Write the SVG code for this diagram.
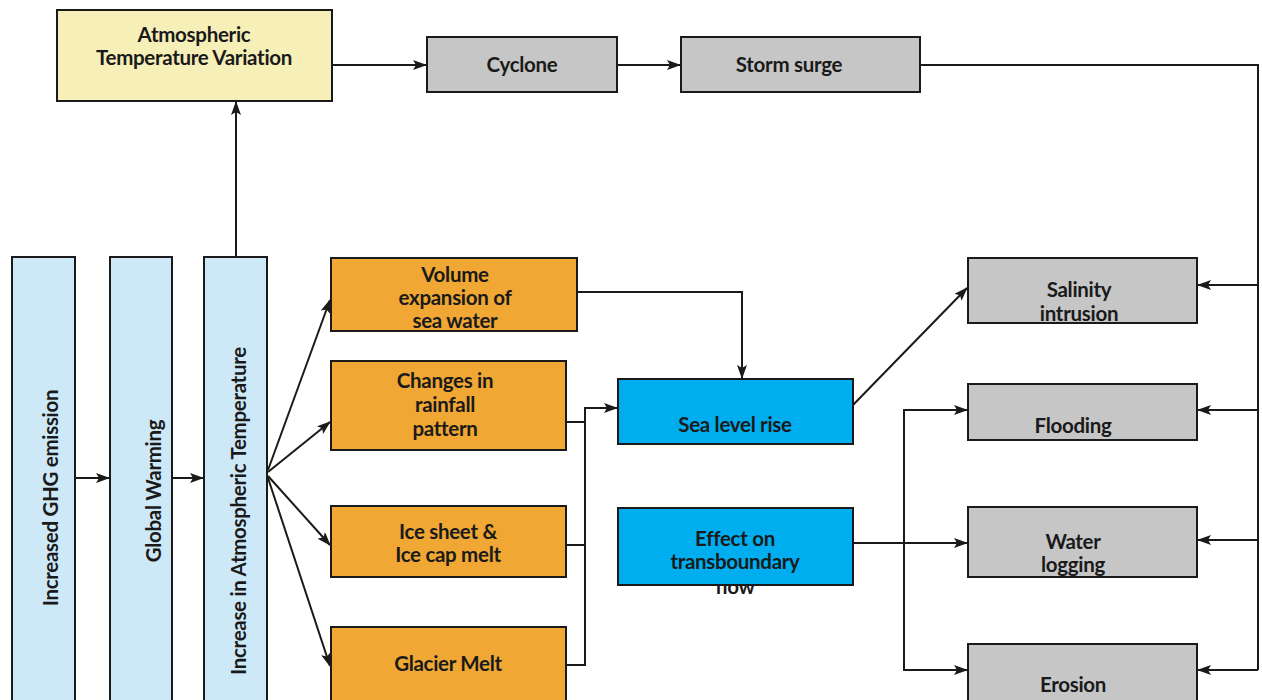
<svg xmlns="http://www.w3.org/2000/svg" width="1262" height="700" viewBox="0 0 1262 700">
  <style>
    .box { stroke: #1a1a1a; stroke-width: 2; }
    .yellow { fill: #f7efb8; }
    .grey { fill: #c6c6c6; }
    .pale { fill: #cde8f6; }
    .orange { fill: #f0a733; }
    .cyan { fill: #00aef0; }
    .lbl { font-family: "Lato", "Liberation Sans", sans-serif; font-weight: bold; font-size: 20.5px; fill: #1a1a1a; text-anchor: middle; letter-spacing: -0.3px; }
    .wire { fill: none; stroke: #1a1a1a; stroke-width: 2; }
  </style>
  <defs>
    <marker id="arrow" viewBox="0 0 14 10" refX="13" refY="5" markerWidth="14" markerHeight="10" markerUnits="userSpaceOnUse" orient="auto">
      <path d="M0,0 L14,5 L0,10 L3,5 Z" fill="#1a1a1a"/>
    </marker>
  </defs>
  <rect width="1262" height="700" fill="#ffffff"/>

  <!-- connectors -->
  <g id="connectors" class="wire">
    <!-- vertical chain -->
    <line x1="76" y1="478" x2="109" y2="478" marker-end="url(#arrow)"/>
    <line x1="173" y1="478" x2="203" y2="478" marker-end="url(#arrow)"/>
    <line x1="236" y1="257" x2="236" y2="102" marker-end="url(#arrow)"/>
    <!-- top row -->
    <line x1="332" y1="65" x2="426" y2="65" marker-end="url(#arrow)"/>
    <line x1="617" y1="65" x2="680" y2="65" marker-end="url(#arrow)"/>
    <!-- fan out of temperature rise -->
    <line x1="268" y1="470" x2="330" y2="300" marker-end="url(#arrow)"/>
    <line x1="268" y1="472" x2="330" y2="422" marker-end="url(#arrow)"/>
    <line x1="268" y1="476" x2="330" y2="545" marker-end="url(#arrow)"/>
    <line x1="268" y1="478" x2="330" y2="666" marker-end="url(#arrow)"/>
    <!-- into sea level rise -->
    <polyline points="577,292 742,292 742,378" marker-end="url(#arrow)"/>
    <polyline points="566,422 585,422"/>
    <polyline points="566,545 585,545"/>
    <polyline points="566,665 585,665 585,408 617,408" marker-end="url(#arrow)"/>
    <!-- sea level rise to salinity -->
    <line x1="853" y1="405" x2="967" y2="288" marker-end="url(#arrow)"/>
    <!-- transboundary flow to impacts -->
    <line x1="853" y1="543" x2="967" y2="543" marker-end="url(#arrow)"/>
    <polyline points="967,410 904,410 904,670 967,670" />
    <line x1="904" y1="410" x2="967" y2="410" marker-end="url(#arrow)"/>
    <line x1="904" y1="670" x2="967" y2="670" marker-end="url(#arrow)"/>
    <!-- storm surge feed on the right -->
    <polyline points="920,65 1258,65 1258,670"/>
    <line x1="1258" y1="285" x2="1198" y2="285" marker-end="url(#arrow)"/>
    <line x1="1258" y1="410" x2="1198" y2="410" marker-end="url(#arrow)"/>
    <line x1="1258" y1="540" x2="1198" y2="540" marker-end="url(#arrow)"/>
    <line x1="1258" y1="670" x2="1198" y2="670" marker-end="url(#arrow)"/>
  </g>

  <g id="atm-variation">
    <rect class="box yellow" x="57" y="10" width="275" height="91"/>
    <text class="lbl" x="194" y="42">Atmospheric</text>
    <text class="lbl" x="194" y="65">Temperature Variation</text>
  </g>
  <g id="cyclone">
    <rect class="box grey" x="427" y="37" width="190" height="55"/>
    <text class="lbl" x="522" y="72">Cyclone</text>
  </g>
  <g id="storm-surge">
    <rect class="box grey" x="681" y="37" width="239" height="55"/>
    <text class="lbl" x="789" y="72">Storm surge</text>
  </g>

  <g id="ghg">
    <rect class="box pale" x="12" y="257" width="63" height="445"/>
    <text class="lbl" transform="translate(58,498) rotate(-90)">Increased GHG emission</text>
  </g>
  <g id="global-warming">
    <rect class="box pale" x="110" y="257" width="62" height="445"/>
    <text class="lbl" transform="translate(161,491) rotate(-90)">Global Warming</text>
  </g>
  <g id="temp-rise">
    <rect class="box pale" x="204" y="257" width="63" height="445"/>
    <text class="lbl" transform="translate(246,511) rotate(-90)">Increase in Atmospheric Temperature</text>
  </g>

  <g id="volume-expansion">
    <rect class="box orange" x="331" y="258" width="246" height="73"/>
    <text class="lbl" x="455" y="282">Volume</text>
    <text class="lbl" x="455" y="305">expansion of</text>
    <text class="lbl" x="455" y="328">sea water</text>
    <rect class="box" fill="none" x="331" y="258" width="246" height="73"/>
  </g>
  <g id="rainfall">
    <rect class="box orange" x="331" y="361" width="235" height="89"/>
    <text class="lbl" x="445" y="388">Changes in</text>
    <text class="lbl" x="445" y="412">rainfall</text>
    <text class="lbl" x="445" y="436">pattern</text>
  </g>
  <g id="ice-sheet">
    <rect class="box orange" x="331" y="506" width="235" height="71"/>
    <text class="lbl" x="448" y="539">Ice sheet &amp;</text>
    <text class="lbl" x="448" y="562">Ice cap melt</text>
  </g>
  <g id="glacier">
    <rect class="box orange" x="331" y="627" width="235" height="75"/>
    <text class="lbl" x="448" y="671">Glacier Melt</text>
  </g>

  <g id="sea-level">
    <rect class="box cyan" x="618" y="379" width="235" height="65"/>
    <text class="lbl" x="735" y="432">Sea level rise</text>
  </g>
  <g id="transboundary">
    <text class="lbl" x="735" y="594">flow</text>
    <rect class="box cyan" x="618" y="508" width="235" height="77"/>
    <text class="lbl" x="735" y="546">Effect on</text>
    <text class="lbl" x="735" y="569">transboundary</text>
  </g>

  <g id="salinity">
    <rect class="box grey" x="968" y="258" width="229" height="65"/>
    <text class="lbl" x="1079" y="297">Salinity</text>
    <text class="lbl" x="1079" y="321">intrusion</text>
    <rect class="box" fill="none" x="968" y="258" width="229" height="65"/>
  </g>
  <g id="flooding">
    <rect class="box grey" x="968" y="384" width="229" height="56"/>
    <text class="lbl" x="1073" y="433">Flooding</text>
    <rect class="box" fill="none" x="968" y="384" width="229" height="56"/>
  </g>
  <g id="water-logging">
    <rect class="box grey" x="968" y="507" width="229" height="70"/>
    <text class="lbl" x="1073" y="549">Water</text>
    <text class="lbl" x="1073" y="572">logging</text>
    <rect class="box" fill="none" x="968" y="507" width="229" height="70"/>
  </g>
  <g id="erosion">
    <rect class="box grey" x="968" y="644" width="229" height="58"/>
    <text class="lbl" x="1073" y="692">Erosion</text>
  </g>
</svg>
